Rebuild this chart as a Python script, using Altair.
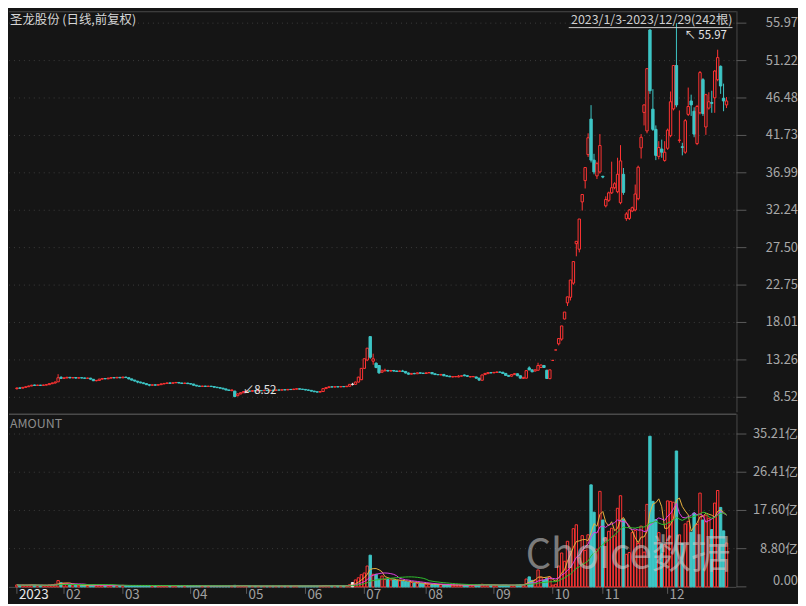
import altair as alt
import pandas as pd

# ---------------- data ----------------
opens = [
    9.62, 9.70, 9.68, 9.78, 9.86, 9.96, 10.08, 10.03, 10.06, 10.03, 10.07, 10.12, 10.24, 10.33, 10.48, 11.05,
    10.92, 10.98, 11.05, 10.98, 11.02, 10.96, 11.00, 10.97, 10.93, 10.95, 10.80, 10.62, 10.66, 10.82, 10.90, 10.86, 10.95, 11.02, 10.98, 11.05,
    10.99, 11.08, 11.00, 10.85, 10.70, 10.56, 10.45, 10.35, 10.25, 10.12, 10.05, 10.10, 10.06, 10.12, 10.22, 10.28, 10.34, 10.30, 10.36, 10.40, 10.33, 10.28, 10.32,
    10.25, 10.20, 10.05, 9.95, 9.90, 9.94, 9.90, 9.93, 9.88, 9.80, 9.74, 9.68, 9.58, 9.45, 9.36, 9.30, 8.72, 8.95, 9.10,
    9.25, 9.32, 9.28, 9.36, 9.33, 9.38, 9.35, 9.40, 9.37, 9.42, 9.40, 9.45, 9.43, 9.48, 9.46, 9.52, 9.50, 9.55, 9.60, 9.55,
    9.52, 9.45, 9.40, 9.30, 9.22, 9.18, 9.25, 9.62, 9.75, 9.85, 9.82, 9.86, 9.84, 9.88, 9.86, 9.92, 10.16, 10.16, 10.45, 10.75,
    12.19, 13.25, 16.22, 13.10, 12.84, 12.55, 11.70, 11.88, 11.92, 11.85, 11.92, 11.85, 11.80, 11.86, 11.80, 11.60, 11.45, 11.55, 11.50, 11.62, 11.58,
    11.54, 11.62, 11.66, 11.50, 11.40, 11.35, 11.42, 11.25, 11.20, 11.10, 11.12, 11.10, 11.20, 11.35, 11.25, 11.10, 11.12, 11.10, 10.95, 10.68, 11.40, 11.52, 11.65,
    11.62, 11.68, 11.72, 11.70, 11.55, 11.30, 11.20, 11.40, 11.50, 11.25, 10.92, 10.95, 12.25, 12.00, 11.85, 11.95, 12.30, 12.55, 11.95, 10.88,
    13.20, 14.52, 15.30, 15.90, 18.45, 20.50, 21.20, 23.00, 28.00, 27.30, 33.30, 36.00, 39.30, 43.80, 38.60, 36.60, 37.10,
    36.55, 32.80, 33.50, 34.45, 35.10, 34.60, 33.20, 36.80, 31.18, 31.20, 32.15, 32.27, 33.70, 40.15, 44.65, 42.30, 55.10, 45.06, 42.50, 39.07, 40.00, 38.56,
    40.10, 41.70, 45.10, 50.60, 41.10, 40.30, 39.60, 44.40, 46.10, 44.80, 40.70, 44.60, 48.80, 42.80, 45.20, 45.90, 46.50, 48.80, 50.50, 46.45, 45.60,
]
closes = [
    9.70, 9.68, 9.78, 9.85, 9.95, 10.05, 10.02, 10.06, 10.03, 10.07, 10.12, 10.25, 10.33, 10.45, 11.00, 10.92,
    10.98, 11.05, 10.98, 11.02, 10.96, 11.00, 10.97, 10.93, 10.95, 10.82, 10.62, 10.66, 10.82, 10.90, 10.86, 10.95, 11.02, 10.98, 11.05, 10.99,
    11.08, 11.02, 10.85, 10.70, 10.58, 10.45, 10.35, 10.25, 10.12, 10.05, 10.10, 10.06, 10.12, 10.22, 10.28, 10.34, 10.30, 10.36, 10.40, 10.33, 10.28, 10.32, 10.25,
    10.20, 10.05, 9.95, 9.90, 9.94, 9.90, 9.93, 9.88, 9.80, 9.74, 9.68, 9.58, 9.45, 9.38, 9.45, 8.62, 8.95, 9.10, 9.25,
    9.32, 9.28, 9.36, 9.33, 9.38, 9.35, 9.40, 9.37, 9.42, 9.40, 9.45, 9.43, 9.48, 9.46, 9.52, 9.50, 9.55, 9.60, 9.55, 9.52,
    9.45, 9.40, 9.30, 9.22, 9.18, 9.25, 9.62, 9.75, 9.85, 9.82, 9.86, 9.84, 9.88, 9.86, 9.92, 10.16, 10.16, 10.45, 11.08, 12.19,
    13.41, 14.75, 13.60, 13.40, 12.30, 11.62, 11.88, 11.95, 11.85, 11.92, 11.85, 11.80, 11.86, 11.80, 11.60, 11.45, 11.55, 11.50, 11.62, 11.58, 11.54,
    11.62, 11.66, 11.50, 11.40, 11.38, 11.42, 11.25, 11.20, 11.12, 11.14, 11.15, 11.20, 11.25, 11.25, 11.18, 11.15, 11.16, 10.95, 10.70, 11.35, 11.55, 11.65, 11.62,
    11.68, 11.72, 11.70, 11.55, 11.30, 11.18, 11.40, 11.52, 11.25, 10.95, 11.05, 11.90, 12.00, 11.75, 12.00, 12.55, 12.60, 12.30, 10.90, 12.00,
    13.20, 14.52, 15.97, 17.57, 19.33, 21.26, 23.39, 25.73, 28.30, 31.13, 34.24, 37.66, 41.43, 38.60, 37.10, 38.15, 40.45,
    36.45, 33.60, 34.45, 35.10, 35.60, 36.80, 38.50, 34.50, 31.77, 32.27, 32.56, 34.30, 37.70, 41.50, 45.60, 50.20, 47.40, 42.50, 39.20, 40.20, 39.60, 39.60,
    42.40, 46.00, 50.60, 45.60, 41.15, 40.20, 43.60, 45.40, 45.60, 41.90, 45.40, 49.70, 44.50, 46.90, 46.00, 45.80, 49.90, 51.60, 48.00, 46.10, 46.10,
]
highs = [
    9.75, 9.76, 9.82, 9.90, 9.99, 10.10, 10.12, 10.10, 10.09, 10.12, 10.16, 10.30, 10.40, 10.52, 11.45, 11.20,
    11.05, 11.12, 11.10, 11.08, 11.05, 11.04, 11.03, 11.00, 11.00, 10.98, 10.84, 10.72, 10.86, 10.95, 10.94, 10.99, 11.08, 11.06, 11.10, 11.08,
    11.12, 11.12, 11.02, 10.88, 10.73, 10.60, 10.50, 10.40, 10.28, 10.16, 10.14, 10.14, 10.16, 10.26, 10.32, 10.38, 10.38, 10.40, 10.44, 10.43, 10.36, 10.36, 10.35,
    10.28, 10.22, 10.08, 9.98, 9.98, 9.97, 9.97, 9.96, 9.90, 9.83, 9.77, 9.70, 9.60, 9.48, 9.50, 9.35, 9.00, 9.15, 9.30,
    9.36, 9.36, 9.40, 9.40, 9.42, 9.41, 9.45, 9.43, 9.46, 9.45, 9.50, 9.48, 9.52, 9.52, 9.56, 9.56, 9.60, 9.64, 9.63, 9.58,
    9.55, 9.50, 9.43, 9.34, 9.26, 9.30, 9.68, 9.80, 9.90, 9.90, 9.90, 9.90, 9.92, 9.92, 9.96, 10.20, 10.35, 10.50, 11.12, 12.19,
    13.41, 14.75, 16.22, 14.05, 12.95, 12.60, 12.05, 12.15, 12.00, 11.98, 11.96, 11.90, 11.92, 12.00, 11.84, 11.66, 11.60, 11.62, 11.66, 11.66, 11.62,
    11.68, 11.72, 11.68, 11.54, 11.45, 11.48, 11.45, 11.30, 11.24, 11.18, 11.20, 11.35, 11.30, 11.40, 11.30, 11.22, 11.20, 11.12, 10.98, 11.40, 11.60, 11.70, 11.70,
    11.72, 11.78, 11.76, 11.72, 11.58, 11.34, 11.45, 11.58, 11.52, 11.28, 11.10, 11.95, 12.45, 12.05, 12.05, 12.90, 12.70, 12.62, 12.00, 12.00,
    13.20, 14.52, 15.97, 17.57, 19.33, 21.26, 23.39, 25.73, 28.30, 31.13, 34.24, 37.66, 42.00, 45.57, 39.40, 38.40, 41.90,
    36.60, 34.00, 34.60, 38.40, 35.80, 38.90, 40.50, 37.60, 32.00, 32.40, 32.70, 35.50, 37.90, 41.90, 45.65, 50.20, 55.20, 47.60, 43.00, 41.00, 41.20, 41.00,
    42.60, 47.30, 50.60, 55.97, 44.90, 40.80, 43.80, 47.80, 46.90, 45.30, 45.60, 49.90, 49.00, 47.00, 47.20, 47.40, 50.00, 52.60, 50.60, 48.30, 46.60,
]
lows = [
    9.50, 9.62, 9.65, 9.74, 9.82, 9.92, 9.98, 9.99, 9.98, 10.00, 10.03, 10.08, 10.20, 10.28, 10.45, 10.85,
    10.85, 10.92, 10.93, 10.95, 10.90, 10.92, 10.93, 10.88, 10.90, 10.78, 10.58, 10.55, 10.62, 10.78, 10.82, 10.83, 10.92, 10.94, 10.95, 10.95,
    10.96, 10.98, 10.80, 10.66, 10.52, 10.30, 10.30, 10.20, 10.08, 9.92, 10.00, 10.02, 10.02, 10.08, 10.18, 10.24, 10.26, 10.27, 10.32, 10.30, 10.24, 10.25, 10.20,
    10.15, 10.00, 9.92, 9.86, 9.86, 9.86, 9.87, 9.85, 9.76, 9.70, 9.64, 9.54, 9.40, 9.34, 9.30, 8.52, 8.65, 8.90, 9.05,
    9.20, 9.24, 9.25, 9.30, 9.30, 9.31, 9.32, 9.34, 9.34, 9.37, 9.37, 9.40, 9.40, 9.43, 9.43, 9.47, 9.47, 9.52, 9.52, 9.48,
    9.40, 9.36, 9.25, 9.18, 9.14, 9.14, 9.22, 9.58, 9.70, 9.78, 9.78, 9.80, 9.80, 9.82, 9.83, 9.90, 10.02, 10.12, 10.40, 10.70,
    12.10, 13.10, 13.40, 12.65, 12.20, 11.50, 11.62, 11.80, 11.80, 11.80, 11.78, 11.74, 11.76, 11.75, 11.55, 11.40, 11.42, 11.46, 11.48, 11.52, 11.50,
    11.50, 11.58, 11.45, 11.36, 11.34, 11.30, 11.20, 11.16, 11.08, 11.05, 11.08, 11.06, 11.15, 11.20, 11.14, 11.06, 11.08, 10.90, 10.62, 10.65, 11.36, 11.48, 11.55,
    11.58, 11.62, 11.65, 11.50, 11.25, 11.12, 11.15, 11.36, 11.20, 10.90, 10.88, 10.90, 11.95, 11.70, 11.80, 11.90, 12.25, 12.25, 10.85, 10.82,
    13.20, 14.52, 15.10, 15.70, 18.40, 20.10, 20.80, 22.80, 26.40, 26.90, 32.20, 35.00, 39.00, 38.30, 36.80, 36.20, 36.90,
    36.30, 32.60, 33.30, 34.30, 34.90, 34.40, 33.00, 34.20, 30.90, 31.00, 32.00, 32.10, 33.50, 38.80, 43.00, 42.00, 47.00, 42.30, 38.60, 38.70, 38.90, 38.40,
    39.90, 41.50, 44.90, 45.30, 40.80, 39.20, 39.40, 44.20, 44.20, 41.50, 40.50, 44.40, 44.20, 41.80, 45.00, 44.60, 44.60, 48.60, 47.00, 44.80, 45.20,
]
# turnover (amount), in 亿
amounts = [
    0.45, 0.35, 0.40, 0.38, 0.42, 0.50, 0.40, 0.35, 0.32, 0.33, 0.36, 0.45, 0.50, 0.62, 1.45, 0.95,
    0.80, 0.70, 0.55, 0.45, 0.40, 0.38, 0.35, 0.33, 0.32, 0.35, 0.42, 0.36, 0.40, 0.35, 0.30, 0.32, 0.35, 0.30, 0.30, 0.30,
    0.35, 0.30, 0.30, 0.30, 0.30, 0.30, 0.28, 0.28, 0.30, 0.30, 0.25, 0.25, 0.25, 0.28, 0.28, 0.30, 0.26, 0.26, 0.28, 0.26, 0.25, 0.25, 0.25,
    0.25, 0.25, 0.25, 0.22, 0.22, 0.20, 0.20, 0.20, 0.22, 0.20, 0.20, 0.22, 0.22, 0.22, 0.20, 0.35, 0.30, 0.25, 0.25,
    0.22, 0.20, 0.21, 0.19, 0.20, 0.18, 0.20, 0.19, 0.21, 0.20, 0.22, 0.20, 0.19, 0.20, 0.21, 0.20, 0.22, 0.24, 0.21, 0.20,
    0.20, 0.21, 0.22, 0.21, 0.20, 0.22, 0.30, 0.32, 0.30, 0.26, 0.25, 0.24, 0.25, 0.26, 0.30, 0.50, 1.00, 1.60, 2.10, 2.80,
    3.20, 4.80, 7.30, 2.90, 2.90, 1.80, 2.50, 1.70, 1.70, 1.60, 1.60, 1.50, 1.40, 1.30, 1.20, 1.10, 1.00, 0.90, 0.80, 0.80, 0.70,
    0.60, 0.60, 0.55, 0.50, 0.50, 0.50, 0.45, 0.45, 0.40, 0.40, 0.40, 0.45, 0.40, 0.40, 0.40, 0.40, 0.35, 0.40, 0.45, 0.60, 0.50, 0.45, 0.40,
    0.40, 0.40, 0.35, 0.40, 0.40, 0.35, 0.40, 0.40, 0.45, 0.50, 0.50, 1.80, 2.30, 1.50, 1.60, 3.90, 2.20, 1.50, 2.00, 2.30,
    0.40, 0.60, 4.80, 7.80, 5.90, 10.50, 8.10, 13.40, 14.30, 6.70, 11.80, 8.40, 12.00, 23.50, 17.20, 8.70, 22.00,
    15.40, 11.30, 12.80, 13.50, 11.70, 18.10, 21.00, 15.60, 7.50, 7.90, 12.50, 13.00, 10.00, 14.00, 8.00, 19.00, 34.70, 19.70, 15.50, 12.50, 9.90, 9.80,
    19.80, 19.70, 19.50, 31.30, 12.00, 10.00, 14.50, 15.10, 12.60, 17.00, 14.40, 21.60, 15.40, 16.50, 15.80, 13.20, 19.30, 22.20, 18.30, 12.90, 10.10,
]
month_ticks = [0, 16, 36, 59, 78, 98, 118, 139, 162, 182, 199, 221]
month_labels = ["2023", "02", "03", "04", "05", "06", "07", "08", "09", "10", "11", "12"]
price_ticks = [8.52, 13.26, 18.01, 22.75, 27.50, 32.24, 36.99, 41.73, 46.48, 51.22, 55.97]
amount_ticks = [0.0, 8.80, 17.60, 26.41, 35.21]
title_text = "圣龙股份 (日线,前复权)"
range_text = "2023/1/3-2023/12/29"

# ---------------- styling ----------------
FONT = "Noto Sans CJK SC"
BG = "#151515"
RED = "#ff3333"
CYAN = "#3dc6c6"
GRID = "#3c3c3c"
AXISC = "#4a4a4a"
TICKC = "#5a5a5a"
LABEL = "#a8a8a8"
W, H_P, H_V = 733, 404, 174

n = len(closes)
dirs = []
for k in range(n):
    if closes[k] > opens[k]:
        d = "up"
    elif closes[k] < opens[k]:
        d = "down"
    else:
        prev = closes[k - 1] if k else closes[k]
        d = "up" if closes[k] > prev else ("down" if closes[k] < prev else "flat")
    dirs.append(d)

df = pd.DataFrame({"i": list(range(n)), "open": opens, "high": highs, "low": lows,
                   "close": closes, "amount": amounts, "dir": dirs})

x_scale = alt.Scale(domain=[-1.0, 242.7], nice=False, zero=False)
p_scale = alt.Scale(domain=[6.63, 57.48], nice=False, zero=False)
v_scale = alt.Scale(domain=[0, 39.78], nice=False)
stroke_scale = alt.Scale(domain=["up", "down", "flat"], range=[RED, CYAN, "#eeeeee"])
fill_scale = alt.Scale(domain=["up", "down", "flat"], range=[BG, CYAN, "#eeeeee"])
X = alt.X("i:Q", scale=x_scale, axis=None)

base = alt.Chart(df)
one = pd.DataFrame({"t": [title_text], "r": [f"{range_text}({n}根)"]})

# ---- price panel: hand-drawn right axis ----
pt = pd.DataFrame({"v": price_ticks, "lab": [f"{v:.2f}" for v in price_ticks]})
PY = alt.Y("v:Q", scale=p_scale, axis=None)
p_grid = alt.Chart(pt).mark_rule(color=GRID, strokeDash=[1, 4], strokeWidth=1).encode(
    y=PY, x=alt.value(0), x2=alt.value(W))
p_tick = alt.Chart(pt).mark_rule(color=TICKC, strokeWidth=1).encode(
    y=PY, x=alt.value(W), x2=alt.value(W + 10))
p_lab = alt.Chart(pt).mark_text(align="right", baseline="middle", fontSize=13, font=FONT,
                                color=LABEL).encode(y=PY, x=alt.value(W + 62), text="lab:N")
p_dom = alt.Chart(one).mark_rule(color=AXISC, strokeWidth=1).encode(
    x=alt.value(W + 0.5), y=alt.value(0), y2=alt.value(H_P))
top_border = alt.Chart(one).mark_rule(color=AXISC, strokeWidth=1).encode(
    x=alt.value(0), x2=alt.value(W), y=alt.value(0.5))

wicks = base.mark_rule(strokeWidth=1).encode(
    x=X, y=alt.Y("low:Q", scale=p_scale, axis=None), y2="high:Q",
    color=alt.Color("dir:N", scale=stroke_scale, legend=None))
bodies = base.mark_bar(size=2.4, strokeWidth=1, fillOpacity=1).encode(
    x=X, y=alt.Y("open:Q", scale=p_scale, axis=None), y2="close:Q",
    stroke=alt.Stroke("dir:N", scale=stroke_scale, legend=None),
    fill=alt.Fill("dir:N", scale=fill_scale, legend=None))

imax = int(df["high"].idxmax())
imin = int(df["low"].idxmin())
hi_df = pd.DataFrame({"i": [imax], "v": [highs[imax]], "t": [f"↖ {highs[imax]:.2f}"]})
lo_df = pd.DataFrame({"i": [imin], "v": [lows[imin]], "t": [f"↙{lows[imin]:.2f}"]})
hi_txt = alt.Chart(hi_df).mark_text(align="left", baseline="middle", dx=8, dy=13, fontSize=11.5,
                                    font=FONT, color="#e6e6e6").encode(x=X, y=PY, text="t:N")
lo_txt = alt.Chart(lo_df).mark_text(align="left", baseline="middle", dx=8, dy=-6, fontSize=11.5,
                                    font=FONT, color="#e6e6e6").encode(x=X, y=PY, text="t:N")

title_txt = alt.Chart(one).mark_text(align="left", baseline="middle", fontSize=12.5, font=FONT,
                                     color="#d6d6d6").encode(
    x=alt.value(1), y=alt.value(8.5), text="t:N")
range_txt = alt.Chart(one).mark_text(align="right", baseline="middle", fontSize=12.5, font=FONT,
                                     color="#cfcfcf").encode(
    x=alt.value(729), y=alt.value(8.5), text="r:N")
range_ul = alt.Chart(one).mark_rule(color="#cfcfcf", strokeWidth=1).encode(
    x=alt.value(564), x2=alt.value(729), y=alt.value(16.5))

price = alt.layer(p_grid, top_border, p_dom, p_tick, p_lab, wicks, bodies, hi_txt, lo_txt,
                  title_txt, range_txt, range_ul).properties(width=W, height=H_P)

# ---- volume panel ----
vt_ticks = pd.DataFrame({"v": amount_ticks,
                         "lab": ["0.00" if v == 0 else f"{v:.2f}亿" for v in amount_ticks]})
VY = alt.Y("v:Q", scale=v_scale, axis=None)
v_grid = alt.Chart(vt_ticks).transform_filter("datum.v > 0").mark_rule(
    color=GRID, strokeDash=[1, 4], strokeWidth=1).encode(y=VY, x=alt.value(0), x2=alt.value(W))
v_tick = alt.Chart(vt_ticks).mark_rule(color=TICKC, strokeWidth=1).encode(
    y=VY, x=alt.value(W), x2=alt.value(W + 10))
v_lab = alt.Chart(vt_ticks).transform_filter("datum.v > 0").mark_text(
    align="right", baseline="middle", fontSize=13, font=FONT, color=LABEL).encode(
    y=VY, x=alt.value(W + 62), text="lab:N")
v_lab0 = alt.Chart(vt_ticks).transform_filter("datum.v == 0").mark_text(
    align="right", baseline="bottom", dy=1, fontSize=13, font=FONT, color=LABEL).encode(
    y=VY, x=alt.value(W + 62), text="lab:N")
v_dom_r = alt.Chart(one).mark_rule(color=AXISC, strokeWidth=1).encode(
    x=alt.value(W + 0.5), y=alt.value(0), y2=alt.value(H_V))
v_dom_b = alt.Chart(one).mark_rule(color=AXISC, strokeWidth=1).encode(
    x=alt.value(0), x2=alt.value(W), y=alt.value(H_V + 0.5))
sep = alt.Chart(one).mark_rule(color="#4a4a4a", strokeWidth=1.5).encode(
    x=alt.value(0), x2=alt.value(W), y=alt.value(0))

mt = pd.DataFrame({"i": month_ticks, "lab": month_labels})
MX = alt.X("i:Q", scale=x_scale, axis=None)
m_tick = alt.Chart(mt).mark_rule(color=TICKC, strokeWidth=1).encode(
    x=MX, y=alt.value(H_V), y2=alt.value(H_V + 7))
m_lab = alt.Chart(mt).mark_text(align="left", baseline="middle", dx=2, fontSize=13.5,
                                font=FONT).encode(
    x=MX, y=alt.value(H_V + 8), text="lab:N",
    color=alt.condition("datum.i == 0", alt.value("#e8e8e8"), alt.value("#a0a0a0")))

vol_bars = base.mark_bar(size=2.4, strokeWidth=1, fillOpacity=1).encode(
    x=X, y=alt.Y("amount:Q", scale=v_scale, axis=None),
    stroke=alt.Stroke("dir:N", scale=stroke_scale, legend=None),
    fill=alt.Fill("dir:N", scale=fill_scale, legend=None))

ma_base = base.transform_window(
    ma5="mean(amount)", frame=[-4, 0], sort=[alt.SortField("i")]
).transform_window(
    ma10="mean(amount)", frame=[-9, 0], sort=[alt.SortField("i")]
).transform_window(
    ma20="mean(amount)", frame=[-19, 0], sort=[alt.SortField("i")])
ma5 = ma_base.mark_line(color="#e8b040", strokeWidth=1).encode(
    x=X, y=alt.Y("ma5:Q", scale=v_scale, axis=None))
ma10 = ma_base.mark_line(color="#e040e0", strokeWidth=1).encode(
    x=X, y=alt.Y("ma10:Q", scale=v_scale, axis=None))
ma20 = ma_base.mark_line(color="#2ec02e", strokeWidth=1).encode(
    x=X, y=alt.Y("ma20:Q", scale=v_scale, axis=None))

vt = pd.DataFrame({"a": ["AMOUNT"], "w": ["Choice数据"]})
amount_txt = alt.Chart(vt).mark_text(align="left", baseline="middle", fontSize=12.5, font=FONT,
                                     color="#8c8c8c").encode(
    x=alt.value(1), y=alt.value(10), text="a:N")
watermark = alt.Chart(vt).mark_text(align="center", baseline="middle", fontSize=40, font=FONT,
                                    color="#cfcfcf", opacity=0.55).encode(
    x=alt.value(624), y=alt.value(143), text="w:N")

volume = alt.layer(v_grid, v_dom_r, v_dom_b, v_tick, v_lab, v_lab0, m_tick, m_lab, sep,
                   vol_bars, ma5, ma10, ma20, amount_txt, watermark).properties(
    width=W, height=H_V)

chart = alt.vconcat(price, volume, spacing=0).properties(
    background=BG, padding=0
).configure_view(stroke=None)

chart.save("out.html", embed_options={"renderer": "svg", "actions": False})
